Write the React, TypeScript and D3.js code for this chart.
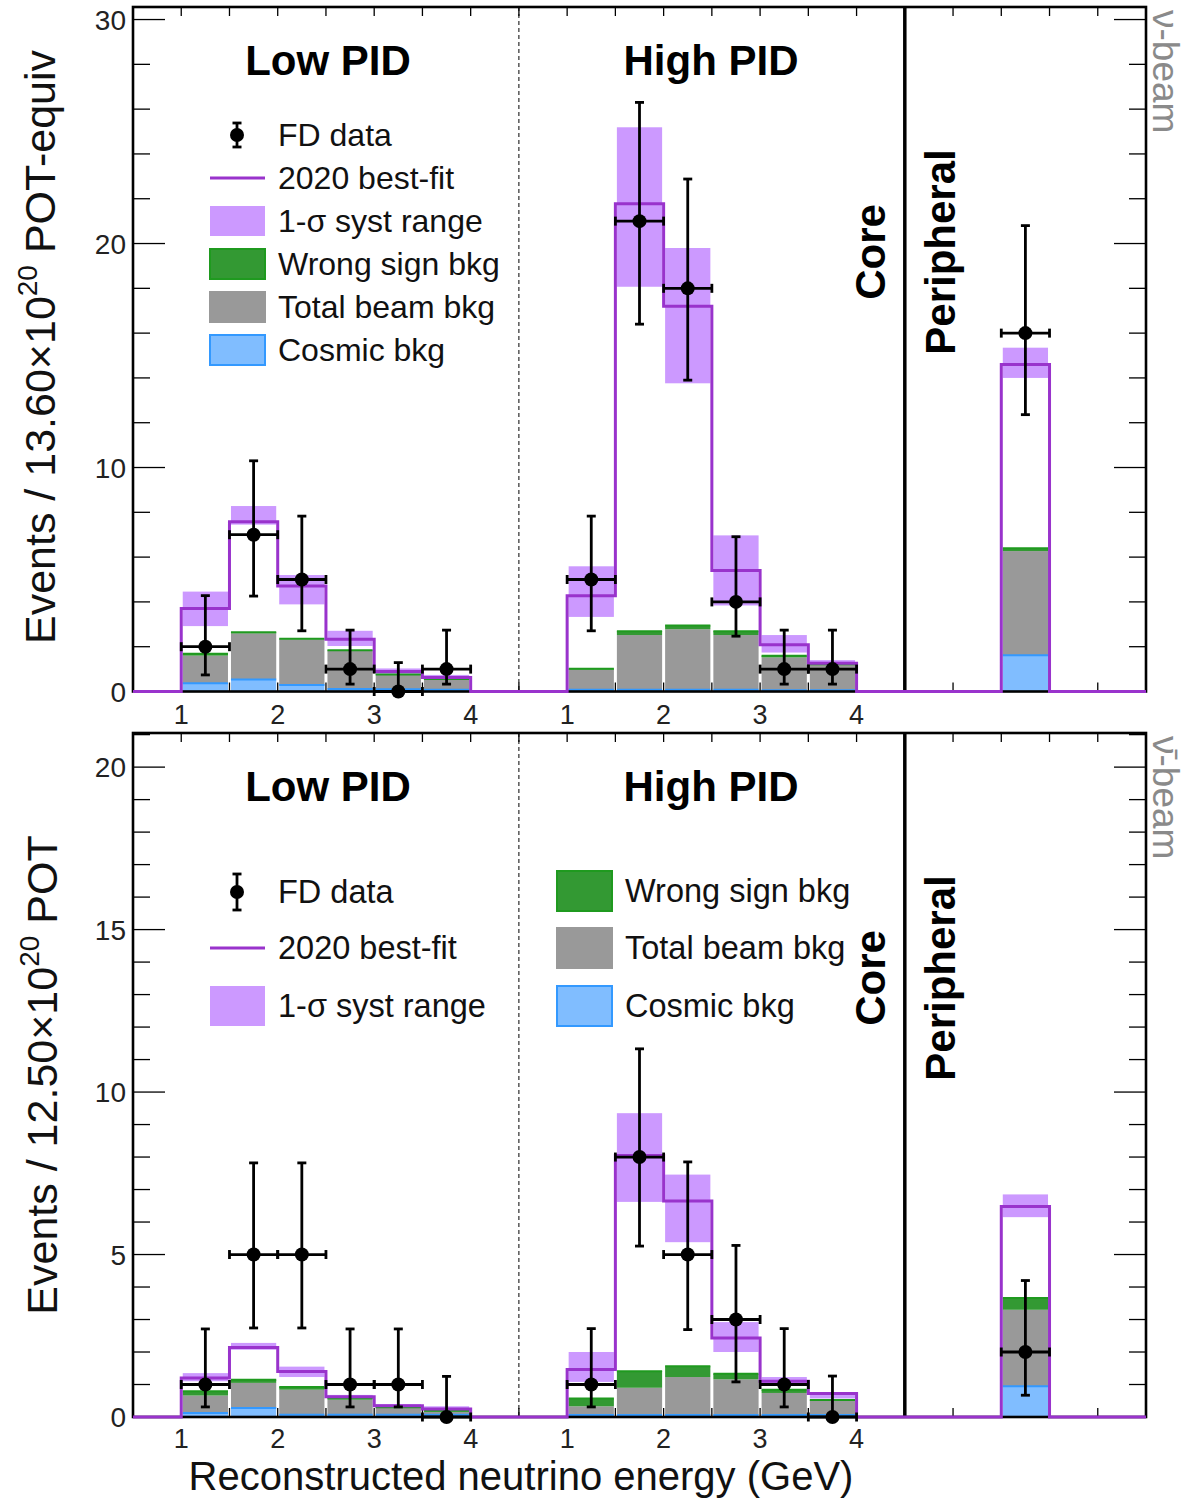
import React from 'react';
import * as d3 from 'd3';

const FONT = "'Liberation Sans', Arial, Helvetica, sans-serif";
const W = 1196;
const H = 1499;
const X_LEFT = 133;
const X_RIGHT = 1146;
const N_BINS = 21; // 8 low PID + 8 high PID + 5 peripheral (0.5 GeV bins)

// ---------------- data ----------------
const binLowEdges = [1.0, 1.5, 2.0, 2.5, 3.0, 3.5];
const coreTickLabels = [1, 2, 3, 4];

// nu-beam, Low PID
const nuLowFit = [3.71, 7.58, 4.71, 2.33, 0.89, 0.63];
const nuLowSystLo = [2.92, 7.45, 3.89, 2.03, 0.74, 0.56];
const nuLowSystHi = [4.46, 8.28, 5.2, 2.71, 1.03, 0.74];
const nuLowCosmic = [0.37, 0.54, 0.29, 0.11, 0.1, 0.08];
const nuLowBeam = [1.23, 2.06, 2.04, 1.71, 0.64, 0.46];
const nuLowWrongSign = [0.08, 0.05, 0.02, 0.02, 0.02, 0.02];
const nuLowData = [2, 7, 5, 1, 0, 1];
const nuLowErrLo = [0.74, 4.26, 2.71, 0.33, 0, 0.33];
const nuLowErrHi = [4.28, 10.3, 7.83, 2.74, 1.29, 2.74];

// nu-beam, High PID
const nuHighFit = [4.28, 21.78, 17.2, 5.4, 2.09, 1.26];
const nuHighSystLo = [3.33, 18.07, 13.76, 3.84, 1.74, 1.19];
const nuHighSystHi = [5.59, 25.19, 19.8, 6.97, 2.52, 1.4];
const nuHighCosmic = [0.08, 0.08, 0.08, 0.08, 0.06, 0.06];
const nuHighBeam = [0.89, 2.44, 2.7, 2.44, 1.46, 1.13];
const nuHighWrongSign = [0.05, 0.17, 0.17, 0.17, 0.08, 0.03];
const nuHighData = [5, 21, 18, 4, 1, 1];
const nuHighErrLo = [2.71, 16.4, 13.9, 2.47, 0.33, 0.33];
const nuHighErrHi = [7.83, 26.3, 22.88, 6.91, 2.74, 2.74];

// nu-beam, Peripheral
const nuPerFit = [14.6];
const nuPerSystLo = [14.0];
const nuPerSystHi = [15.35];
const nuPerCosmic = [1.62];
const nuPerBeam = [4.65];
const nuPerWrongSign = [0.12];
const nuPerData = [16];
const nuPerErrLo = [12.36];
const nuPerErrHi = [20.8];

// antinu-beam, Low PID
const anuLowFit = [1.2, 2.14, 1.4, 0.62, 0.35, 0.25];
const anuLowSystLo = [1.1, 2.07, 1.23, 0.56, 0.3, 0.2];
const anuLowSystHi = [1.35, 2.28, 1.55, 0.68, 0.4, 0.33];
const anuLowCosmic = [0.12, 0.28, 0.07, 0.07, 0.07, 0.07];
const anuLowBeam = [0.54, 0.77, 0.77, 0.46, 0.21, 0.1];
const anuLowWrongSign = [0.13, 0.1, 0.08, 0.07, 0.02, 0.02];
const anuLowData = [1, 5, 5, 1, 1, 0];
const anuLowErrLo = [0.31, 2.74, 2.74, 0.31, 0.31, 0];
const anuLowErrHi = [2.71, 7.82, 7.82, 2.71, 2.71, 1.25];

// antinu-beam, High PID
const anuHighFit = [1.46, 8.05, 6.65, 2.43, 1.1, 0.72];
const anuHighSystLo = [1.08, 6.62, 5.38, 2.0, 0.97, 0.57];
const anuHighSystHi = [2.0, 9.35, 7.46, 2.92, 1.23, 0.75];
const anuHighCosmic = [0.06, 0.06, 0.06, 0.06, 0.06, 0.06];
const anuHighBeam = [0.27, 0.84, 1.17, 1.1, 0.68, 0.45];
const anuHighWrongSign = [0.24, 0.51, 0.33, 0.17, 0.1, 0.01];
const anuHighData = [1, 8, 5, 3, 1, 0];
const anuHighErrLo = [0.31, 5.26, 2.69, 1.08, 0.31, 0];
const anuHighErrHi = [2.72, 11.33, 7.85, 5.28, 2.72, 1.26];

// antinu-beam, Peripheral
const anuPerFit = [6.48];
const anuPerSystLo = [6.15];
const anuPerSystHi = [6.85];
const anuPerCosmic = [0.95];
const anuPerBeam = [2.35];
const anuPerWrongSign = [0.36];
const anuPerData = [2];
const anuPerErrLo = [0.67];
const anuPerErrHi = [4.2];

// ---------------- styles ----------------
const C_FIT = '#9933CC';
const C_BAND = '#CC99FF';
const C_BEAM = '#999999';
const C_WS = '#339933';
const C_WS_LINE = '#1F9A1F';
const C_COSMIC = '#80BDFF';
const C_COSMIC_LINE = '#3399FF';

const LOW_OFF = 0;
const HIGH_OFF = 8;
const PER_BIN = 18;

function coreIndex(off: number, e: number) {
  return off + (e - 0.5) / 0.5;
}

function makeRows(idx: number[], fit, lo, hi, cos, beam, ws, data, eLo, eHi) {
  return idx.map((i, k) => ({
    i,
    fit: fit[k], lo: lo[k], hi: hi[k],
    cosmic: cos[k], beam: beam[k], ws: ws[k],
    data: data[k], eLo: eLo[k], eHi: eHi[k],
  }));
}

const lowIdx = binLowEdges.map((e) => coreIndex(LOW_OFF, e));
const highIdx = binLowEdges.map((e) => coreIndex(HIGH_OFF, e));

const nuRows = [
  ...makeRows(lowIdx, nuLowFit, nuLowSystLo, nuLowSystHi, nuLowCosmic, nuLowBeam, nuLowWrongSign, nuLowData, nuLowErrLo, nuLowErrHi),
  ...makeRows(highIdx, nuHighFit, nuHighSystLo, nuHighSystHi, nuHighCosmic, nuHighBeam, nuHighWrongSign, nuHighData, nuHighErrLo, nuHighErrHi),
  ...makeRows([PER_BIN], nuPerFit, nuPerSystLo, nuPerSystHi, nuPerCosmic, nuPerBeam, nuPerWrongSign, nuPerData, nuPerErrLo, nuPerErrHi),
];
const anuRows = [
  ...makeRows(lowIdx, anuLowFit, anuLowSystLo, anuLowSystHi, anuLowCosmic, anuLowBeam, anuLowWrongSign, anuLowData, anuLowErrLo, anuLowErrHi),
  ...makeRows(highIdx, anuHighFit, anuHighSystLo, anuHighSystHi, anuHighCosmic, anuHighBeam, anuHighWrongSign, anuHighData, anuHighErrLo, anuHighErrHi),
  ...makeRows([PER_BIN], anuPerFit, anuPerSystLo, anuPerSystHi, anuPerCosmic, anuPerBeam, anuPerWrongSign, anuPerData, anuPerErrLo, anuPerErrHi),
];

const x = d3.scaleLinear().domain([0, N_BINS]).range([X_LEFT, X_RIGHT]);

function DataPoint({ cx, cy, x0, x1, yLo, yHi }) {
  const cap = 4.5;
  return (
    <g stroke="#000" strokeWidth={2.8}>
      <line x1={cx} x2={cx} y1={yHi} y2={yLo} />
      <line x1={cx - cap} x2={cx + cap} y1={yHi} y2={yHi} />
      {yLo - cy > 1 && <line x1={cx - cap} x2={cx + cap} y1={yLo} y2={yLo} />}
      <line x1={x0} x2={x1} y1={cy} y2={cy} />
      <line x1={x0} x2={x0} y1={cy - cap} y2={cy + cap} />
      <line x1={x1} x2={x1} y1={cy - cap} y2={cy + cap} />
      <circle cx={cx} cy={cy} r={7} fill="#000" stroke="none" />
    </g>
  );
}

function Panel({ rows, top, bottom, yMax, major, minor, beamLabel, titleY, coreY, tickLabelY }) {
  const y = d3.scaleLinear().domain([0, yMax]).range([bottom, top]);
  const stacked = d3.stack().keys(['cosmic', 'beam', 'ws'])(rows as any);
  const fitFull = d3.range(N_BINS).map((i) => {
    const r = rows.find((rr) => rr.i === i);
    return r ? r.fit : 0;
  });
  const fitPts = fitFull.map((v, i) => [i, v]).concat([[N_BINS, fitFull[N_BINS - 1]]]);
  const fitLine = d3.line().x((d) => x(d[0])).y((d) => y(d[1])).curve(d3.curveStepAfter);
  const yTicks = d3.range(0, yMax + 1e-9, minor);
  const isMajor = (v) => Math.abs(v / major - Math.round(v / major)) < 1e-6;
  const layerFill = [C_COSMIC, C_BEAM, C_WS];
  const inset = 1.5;

  return (
    <g>
      {/* syst band */}
      {rows.map((r) => (
        <rect key={'b' + r.i} x={x(r.i) + inset} width={x(r.i + 1) - x(r.i) - 2 * inset}
          y={y(r.hi)} height={y(r.lo) - y(r.hi)} fill={C_BAND} />
      ))}
      {/* stacked backgrounds */}
      {stacked.map((layer, li) => (
        <g key={'l' + li}>
          {layer.map((seg, k) => {
            const r = rows[k];
            return (
              <rect key={k} x={x(r.i) + inset} width={x(r.i + 1) - x(r.i) - 2 * inset}
                y={y(seg[1])} height={Math.max(0, y(seg[0]) - y(seg[1]))} fill={layerFill[li]} />
            );
          })}
        </g>
      ))}
      {/* layer top lines */}
      {stacked[0].map((seg, k) => {
        const r = rows[k];
        return <line key={'cl' + k} x1={x(r.i) + inset} x2={x(r.i + 1) - inset} y1={y(seg[1])} y2={y(seg[1])} stroke={C_COSMIC_LINE} strokeWidth={2} />;
      })}
      {stacked[2].map((seg, k) => {
        const r = rows[k];
        return <line key={'wl' + k} x1={x(r.i) + inset} x2={x(r.i + 1) - inset} y1={y(seg[1])} y2={y(seg[1])} stroke={C_WS_LINE} strokeWidth={2} />;
      })}

      {/* frame */}
      <rect x={X_LEFT} y={top} width={X_RIGHT - X_LEFT} height={bottom - top} fill="none" stroke="#000" strokeWidth={2.6} />
      <line x1={x(8)} x2={x(8)} y1={top} y2={bottom} stroke="#000" strokeWidth={1} strokeDasharray="4,3" />
      <line x1={x(16)} x2={x(16)} y1={top} y2={bottom} stroke="#000" strokeWidth={3.5} />

      {/* x ticks */}
      {d3.range(1, N_BINS).map((i) => (
        <g key={'xt' + i} stroke="#000" strokeWidth={1.3}>
          <line x1={x(i)} x2={x(i)} y1={top} y2={top + 9} />
          <line x1={x(i)} x2={x(i)} y1={bottom} y2={bottom - 9} />
        </g>
      ))}
      {/* y ticks */}
      {yTicks.map((v) => {
        const len = isMajor(v) ? 32 : 17;
        return (
          <g key={'yt' + v} stroke="#000" strokeWidth={1.3}>
            <line x1={X_LEFT} x2={X_LEFT + len} y1={y(v)} y2={y(v)} />
            <line x1={X_RIGHT} x2={X_RIGHT - len} y1={y(v)} y2={y(v)} />
          </g>
        );
      })}
      {yTicks.filter(isMajor).map((v) => (
        <text key={'yl' + v} x={126} y={y(v)} dy="0.36em" textAnchor="end" fontSize={28} fontFamily={FONT} fill="#222">{v}</text>
      ))}
      {[LOW_OFF, HIGH_OFF].map((off) =>
        coreTickLabels.map((e) => (
          <text key={'xl' + off + e} x={x(coreIndex(off, e))} y={tickLabelY} textAnchor="middle" fontSize={27} fontFamily={FONT} fill="#222">{e}</text>
        ))
      )}

      {/* best fit line */}
      <path d={fitLine(fitPts as any) || ''} fill="none" stroke={C_FIT} strokeWidth={3} />

      {/* data */}
      {rows.map((r) => {
        const cx = (x(r.i) + x(r.i + 1)) / 2;
        return <DataPoint key={'d' + r.i} cx={cx} cy={y(r.data)} x0={x(r.i)} x1={x(r.i + 1)} yLo={y(r.eLo)} yHi={y(r.eHi)} />;
      })}

      {/* labels */}
      <text x={328} y={titleY} textAnchor="middle" fontSize={42} fontWeight="bold" fontFamily={FONT}>Low PID</text>
      <text x={711} y={titleY} textAnchor="middle" fontSize={42} fontWeight="bold" fontFamily={FONT}>High PID</text>
      <text transform={`translate(885,${coreY}) rotate(-90)`} textAnchor="middle" fontSize={42} fontWeight="bold" fontFamily={FONT}>Core</text>
      <text transform={`translate(955,${coreY}) rotate(-90)`} textAnchor="middle" fontSize={42} fontWeight="bold" fontFamily={FONT}>Peripheral</text>
      <text transform={`translate(1153,${top + 3}) rotate(90)`} textAnchor="start" fontSize={37} fontFamily={FONT} fill="#8a8a8a">{beamLabel}</text>
    </g>
  );
}

function LegendBox({ x0, yc, h, fill, stroke }) {
  return <rect x={x0} y={yc - h / 2} width={55} height={h} fill={fill} stroke={stroke} strokeWidth={stroke ? 2 : 0} />;
}

function LegendData({ cx, yc, half }) {
  return (
    <g stroke="#000" strokeWidth={2.8}>
      <line x1={cx} x2={cx} y1={yc - half} y2={yc + half} />
      <line x1={cx - 4.5} x2={cx + 4.5} y1={yc - half} y2={yc - half} />
      <line x1={cx - 4.5} x2={cx + 4.5} y1={yc + half} y2={yc + half} />
      <circle cx={cx} cy={yc} r={7} fill="#000" stroke="none" />
    </g>
  );
}

export default function App() {
  const lt = { fontSize: 32, fontFamily: FONT, fill: '#111' };
  const lb = { fontSize: 32.5, fontFamily: FONT, fill: '#111' };
  const topRows = [135, 178, 221, 264, 307, 350];
  return (
    <svg width={W} height={H} viewBox={`0 0 ${W} ${H}`} style={{ position: 'absolute', left: 0, top: 0, background: '#fff' }}>
      <rect x={0} y={0} width={W} height={H} fill="#fff" />
      <Panel rows={nuRows} top={7} bottom={691.5} yMax={30.56} major={10} minor={2}
        beamLabel="ν-beam" titleY={75} coreY={252} tickLabelY={724} />
      <Panel rows={anuRows} top={733} bottom={1417} yMax={21.05} major={5} minor={1}
        beamLabel={'ν\u0304-beam'} titleY={801} coreY={978} tickLabelY={1448} />

      {/* top legend */}
      <LegendData cx={237} yc={topRows[0]} half={12} />
      <text x={278} y={topRows[0]} dy="0.35em" {...lt}>FD data</text>
      <line x1={210} x2={265} y1={topRows[1]} y2={topRows[1]} stroke={C_FIT} strokeWidth={3} />
      <text x={278} y={topRows[1]} dy="0.35em" {...lt}>2020 best-fit</text>
      <LegendBox x0={210} yc={topRows[2]} h={30} fill={C_BAND} stroke={null} />
      <text x={278} y={topRows[2]} dy="0.35em" {...lt}>1-σ syst range</text>
      <LegendBox x0={210} yc={topRows[3]} h={30} fill={C_WS} stroke={C_WS_LINE} />
      <text x={278} y={topRows[3]} dy="0.35em" {...lt}>Wrong sign bkg</text>
      <LegendBox x0={210} yc={topRows[4]} h={30} fill={C_BEAM} stroke={C_BEAM} />
      <text x={278} y={topRows[4]} dy="0.35em" {...lt}>Total beam bkg</text>
      <LegendBox x0={210} yc={topRows[5]} h={30} fill={C_COSMIC} stroke={C_COSMIC_LINE} />
      <text x={278} y={topRows[5]} dy="0.35em" {...lt}>Cosmic bkg</text>

      {/* bottom legend */}
      <LegendData cx={237} yc={892} half={18} />
      <text x={278} y={892} dy="0.35em" {...lb}>FD data</text>
      <line x1={210} x2={265} y1={948} y2={948} stroke={C_FIT} strokeWidth={3} />
      <text x={278} y={948} dy="0.35em" {...lb}>2020 best-fit</text>
      <LegendBox x0={210} yc={1006} h={40} fill={C_BAND} stroke={null} />
      <text x={278} y={1006} dy="0.35em" {...lb}>1-σ syst range</text>
      <LegendBox x0={557} yc={891} h={40} fill={C_WS} stroke={C_WS_LINE} />
      <text x={625} y={891} dy="0.35em" {...lb}>Wrong sign bkg</text>
      <LegendBox x0={557} yc={948} h={40} fill={C_BEAM} stroke={C_BEAM} />
      <text x={625} y={948} dy="0.35em" {...lb}>Total beam bkg</text>
      <LegendBox x0={557} yc={1006} h={40} fill={C_COSMIC} stroke={C_COSMIC_LINE} />
      <text x={625} y={1006} dy="0.35em" {...lb}>Cosmic bkg</text>

      {/* axis titles */}
      <text transform="translate(55,347) rotate(-90)" textAnchor="middle" fontSize={43} fontFamily={FONT} fill="#111">
        Events / 13.60×10<tspan dy={-18} fontSize={28}>20</tspan><tspan dy={18}> POT-equiv</tspan>
      </text>
      <text transform="translate(57,1075) rotate(-90)" textAnchor="middle" fontSize={43} fontFamily={FONT} fill="#111">
        Events / 12.50×10<tspan dy={-18} fontSize={28}>20</tspan><tspan dy={18}> POT</tspan>
      </text>
      <text x={521} y={1490} textAnchor="middle" fontSize={40} fontFamily={FONT} fill="#111">Reconstructed neutrino energy (GeV)</text>
    </svg>
  );
}
